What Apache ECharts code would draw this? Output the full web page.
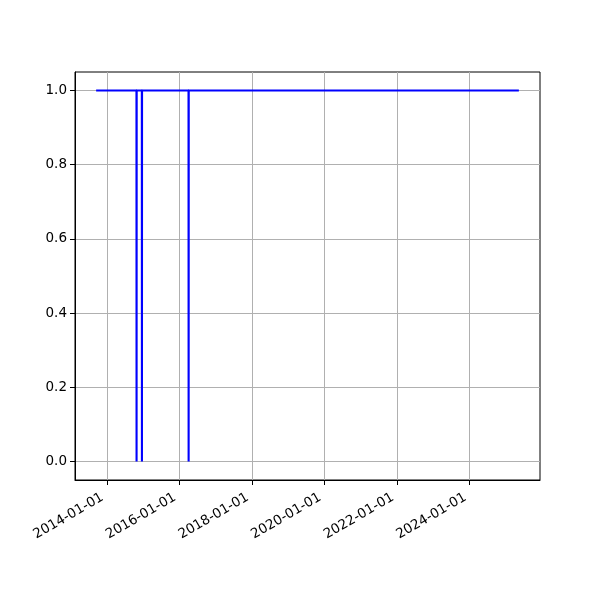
<!DOCTYPE html>
<html><head><meta charset="utf-8">
<script src="https://cdn.jsdelivr.net/npm/echarts@6/dist/echarts.min.js"></script>
<style>html,body{margin:0;padding:0;background:#fff}#c{width:600px;height:600px}</style>
</head><body><div id="c"></div>
<script>
const dates = ['2013-09-15','2014-10-26','2014-10-27','2014-10-28','2014-12-19','2014-12-20','2014-12-21','2016-04-02','2016-04-03','2016-04-04','2025-05-10'];
const values = [1,1,0,1,1,0,1,1,0,1,1];
const xTickLabels = ['2014-01-01','2016-01-01','2018-01-01','2020-01-01','2022-01-01','2024-01-01'];
const yTicks = [0,0.2,0.4,0.6,0.8,1.0];

const ts = dates.map(d => Date.parse(d + 'T00:00:00Z'));
const xTicks = xTickLabels.map(d => Date.parse(d + 'T00:00:00Z'));
const span = ts[ts.length-1] - ts[0];
const xMin = ts[0] - 0.05*span, xMax = ts[ts.length-1] + 0.05*span;
const font = 'DejaVu Sans';
const chart = echarts.init(document.getElementById('c'));
chart.setOption({
  animation:false,
  grid:{left:75,right:60,top:72,bottom:120,show:true,borderColor:'#000',borderWidth:1,backgroundColor:'transparent'},
  xAxis:{type:'value',min:xMin,max:xMax,
    axisLine:{show:true,onZero:false,lineStyle:{color:'#000',width:1}},
    axisTick:{show:true,length:5,lineStyle:{color:'#000',width:1},customValues:xTicks},
    axisLabel:{customValues:xTicks,rotate:30,color:'#000',fontFamily:font,fontSize:13.5,margin:14,padding:[0,5,0,0],
      formatter:v=>{const d=new Date(v);return d.toISOString().slice(0,10);}},
    splitLine:{show:true,lineStyle:{color:'#b0b0b0',width:1}}
  },
  yAxis:{type:'value',min:-0.05,max:1.05,
    axisLine:{show:true,lineStyle:{color:'#000',width:1}},
    axisTick:{show:true,length:5,lineStyle:{color:'#000',width:1},customValues:yTicks},
    axisLabel:{customValues:yTicks,color:'#000',fontFamily:font,fontSize:13.5,margin:8,formatter:v=>v.toFixed(1)},
    splitLine:{show:true,lineStyle:{color:'#b0b0b0',width:1}}
  },
  series:[{type:'line',data:ts.map((t,i)=>[t,values[i]]),symbol:'none',lineStyle:{color:'#0000ff',width:2.1},clip:false}]
});
</script></body></html>
